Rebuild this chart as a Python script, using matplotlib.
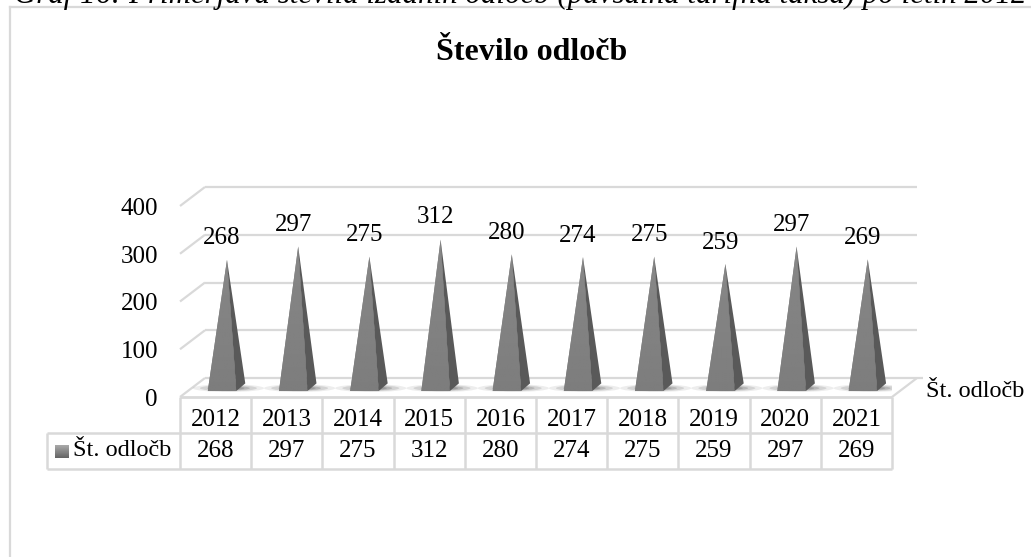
import numpy as np
from matplotlib import pyplot as plt
from matplotlib.patches import Ellipse

years = ['2012', '2013', '2014', '2015', '2016', '2017', '2018', '2019', '2020', '2021']
odlocbe = [268, 297, 275, 312, 280, 274, 275, 259, 297, 269]
y_ticks = [0, 100, 200, 300, 400]
series_name = 'Št. odločb'
chart_title = 'Število odločb'
caption = 'Graf 16: Primerjava števila izdanih odločb (pavšalna tarifna taksa) po letih 2012'

W, H = 1031, 557
GRID = '#d9d9d9'
FONT = 'Liberation Serif'

plt.rcParams['font.family'] = [FONT, 'DejaVu Serif']

fig = plt.figure(figsize=(W/100, H/100), dpi=100)
fig.patch.set_facecolor('white')

# front plane of the 3d box: 180..892 px wide, value 0 at y=397, 400 at y=206
ax = fig.add_axes([180/W, 1-397/H, 712/W, 191/H])
ax.axis('off')

# px per unit, used for the fake depth
ux = 71.2
uy = 191/400
dx = 25/ux
dy = 19/uy


def line(xs, ys, lw=1.6, color=GRID, z=1):
    ax.plot(xs, ys, color=color, lw=lw, clip_on=False, zorder=z, solid_capstyle='butt')


n = len(years)

# walls
for t in y_ticks:
    line([0, dx], [t, t+dy])
    line([dx, n+dx], [t+dy, t+dy])
    ax.text(-0.31, t-6, str(t), ha='right', va='center', fontsize=18, clip_on=False)

# floor
line([0, n], [0, 0], lw=2)
line([n, n+dx], [0, dy])
line([n+dx, n+dx+0.08], [dy, dy])

# floor shadows and pyramids
base_w = 0.40
for i, v in enumerate(odlocbe):
    x0 = i + 0.39
    y0 = 12.5
    d = 0.127
    h = 16

    for k, a in zip([1.0, 0.8, 0.6, 0.45, 0.3], [0.10, 0.16, 0.22, 0.26, 0.30]):
        sh = Ellipse((x0 + 0.29, y0 + 6), 1.0*k, 16*k, color='#505050',
                     alpha=a, lw=0, zorder=2)
        ax.add_patch(sh)

    apex_x = i + 0.66
    apex_y = 30 + v*0.96

    # left face with slight vertical shading
    grad = np.linspace(0.49, 0.53, 64).reshape(-1, 1)
    left = ax.fill([x0, x0+base_w, apex_x], [y0, y0, apex_y], color='#808080', lw=0, zorder=3)[0]
    im = ax.imshow(grad, extent=[x0, x0+base_w, y0, apex_y], origin='lower', aspect='auto',
                   cmap='gray', vmin=0, vmax=1, zorder=3, interpolation='bilinear')
    im.set_clip_path(left)
    ax.fill([x0+base_w, x0+base_w+d, apex_x], [y0, y0+h, apex_y], color='#595959', lw=0, zorder=4)

    ax.text(i + 0.59, v + 64, str(v), ha='center', va='center', fontsize=18, clip_on=False, zorder=6)

# data table under the plot, rows in value units
row1 = -75
row2 = -151
left_x = -1.87
for i in range(n+1):
    line([i, i], [0, row2], lw=1.8)
line([left_x, n], [row1, row1], lw=1.8)
line([left_x, n], [row2, row2], lw=1.8)
line([left_x, left_x], [row1, row2], lw=1.8)

for i, (y, v) in enumerate(zip(years, odlocbe)):
    ax.text(i+0.5, row1*0.64, y, ha='center', va='center', fontsize=18, clip_on=False)
    ax.text(i+0.5, (row1+row2)/2, str(v), ha='center', va='center', fontsize=18, clip_on=False)

# legend key in table
key = np.linspace(0.66, 0.40, 16).reshape(-1, 1)
ax.imshow(key, extent=[-1.755, -1.559, -127.7, -100.5], origin='upper', aspect='auto', cmap='gray',
          vmin=0, vmax=1, zorder=5, clip_on=False)
ax.text(-1.50, (row1+row2)/2, series_name, ha='left', va='center', fontsize=17.5, clip_on=False)
ax.text(n+dx+0.13, dy-28, series_name, ha='left', va='center', fontsize=17.5, clip_on=False)

ax.set_xlim(0, n)
ax.set_ylim(0, 400)

# outer frame of the chart, only left and top show in the crop
fig.add_artist(plt.Line2D([10/W, 10/W], [0, 1-7/H], color=GRID, lw=1.6))
fig.add_artist(plt.Line2D([10/W, 1], [1-7/H, 1-7/H], color=GRID, lw=1.6))

fig.text(532/W, 1-52/H, chart_title, ha='center', va='center', fontsize=23, fontweight='bold')
# caption is cut by the top of the page, as in the source
fig.text(14/W, 1-3/H, caption, ha='left', va='baseline', fontsize=22.2, style='italic')

fig.savefig('out.png', dpi=100)
